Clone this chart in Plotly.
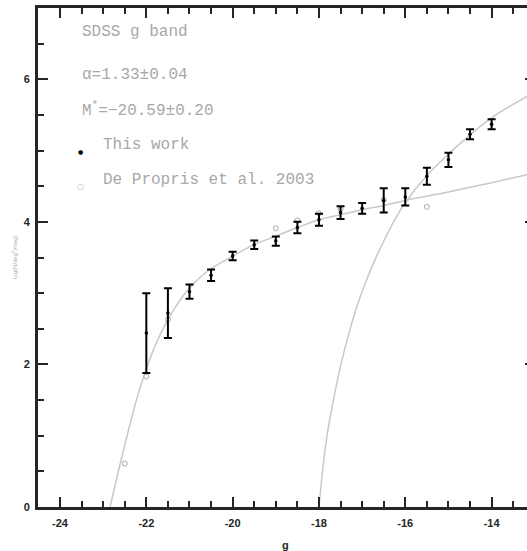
import plotly.graph_objects as go

# ---- data ----
g_this = [-22.0, -21.5, -21.0, -20.5, -20.0, -19.5, -19.0, -18.5, -18.0,
          -17.5, -17.0, -16.5, -16.0, -15.5, -15.0, -14.5, -14.0]
logn_this = [2.44, 2.72, 3.02, 3.25, 3.52, 3.68, 3.73, 3.92, 4.03,
             4.13, 4.19, 4.30, 4.35, 4.64, 4.87, 5.23, 5.37]
err_this = [0.56, 0.35, 0.10, 0.08, 0.06, 0.06, 0.065, 0.08, 0.085,
            0.09, 0.075, 0.17, 0.12, 0.12, 0.10, 0.07, 0.07]

g_dp = [-22.5, -22.0, -21.5, -19.0, -18.5, -18.0, -17.5, -16.5, -15.5]
logn_dp = [0.61, 1.83, 2.63, 3.91, 4.02, 4.12, 4.18, 4.31, 4.21]

# bright-end fit curve
fit1_g = [-22.84, -22.6, -22.23, -22.11, -21.84, -21.5, -21.03, -20.6, -20.0,
          -19.5, -19.0, -18.5, -18.0, -17.5, -17.0, -16.5, -16.0, -15.0, -14.0, -13.18]
fit1_y = [0.0, 0.62, 1.5, 1.74, 2.2, 2.63, 3.05, 3.3, 3.52,
          3.68, 3.8, 3.92, 4.03, 4.1, 4.17, 4.23, 4.3, 4.42, 4.55, 4.66]

# faint-end fit curve
fit2_g = [-18.0, -17.9, -17.8, -17.65, -17.5, -17.3, -17.1, -16.9, -16.7,
          -16.5, -16.25, -16.0, -15.5, -15.0, -14.5, -14.0, -13.18]
fit2_y = [0.0, 0.6, 1.05, 1.55, 1.98, 2.45, 2.85, 3.18, 3.47,
          3.73, 4.02, 4.27, 4.65, 4.95, 5.22, 5.46, 5.76]

x_tickvals = [-24, -22, -20, -18, -16, -14]
x_ticktext = ["-24", "-22", "-20", "-18", "-16", "-14"]
x_minor = [-24.5, -23.5, -23.0, -22.5, -21.5, -21.0, -20.5, -19.5, -19.0,
           -18.5, -17.5, -17.0, -16.5, -15.5, -15.0, -14.5, -13.5]
y_tickvals = [0, 2, 4, 6]
y_ticktext = ["0", "2", "4", "6"]
y_minor = [0.5, 1.0, 1.5, 2.5, 3.0, 3.5, 4.5, 5.0, 5.5, 6.5]

AX = "#262626"
CURVE = "#c8c8c8"
TXT = "#a8a8a8"
XR = [-24.51, -13.18]
YR = [0, 7]

fig = go.Figure()
fig.add_trace(go.Scatter(x=fit1_g, y=fit1_y, mode="lines",
                         line=dict(color=CURVE, width=1.5, shape="spline"),
                         hoverinfo="skip"))
fig.add_trace(go.Scatter(x=fit2_g, y=fit2_y, mode="lines",
                         line=dict(color=CURVE, width=1.5, shape="spline"),
                         hoverinfo="skip"))
fig.add_trace(go.Scatter(x=g_dp, y=logn_dp, mode="markers",
                         marker=dict(symbol="circle-open", size=5,
                                     color="#aaaaaa", line=dict(width=1, color="#aaaaaa"))))
fig.add_trace(go.Scatter(x=g_this, y=logn_this, mode="markers",
                         marker=dict(symbol="circle", size=3.5, color="black"),
                         error_y=dict(type="data", array=err_this, color="black",
                                      thickness=2, width=4)))
# empty helper traces so the overlay tick axes are instantiated
for xa, ya in [("x2", "y"), ("x3", "y"), ("x4", "y"), ("x", "y2"), ("x", "y3")]:
    fig.add_trace(go.Scatter(x=[], y=[], xaxis=xa, yaxis=ya, hoverinfo="skip"))

W, H = 527, 551
L, T, B = 38, 8, 44
pw, ph = W - L, H - T - B


def px(xp):
    return (xp - L) / pw


def py(yp):
    return (H - B - yp) / ph


tickfont = dict(family="Liberation Sans", size=11, color=AX, weight="bold")
common = dict(showgrid=False, zeroline=False, tickcolor=AX, tickwidth=2, ticks="inside")
fig.update_layout(
    width=W, height=H,
    margin=dict(l=L, r=0, t=T, b=B, pad=0),
    paper_bgcolor="white", plot_bgcolor="white",
    showlegend=False,
    xaxis=dict(range=XR, tickmode="array", tickvals=x_tickvals, ticktext=x_ticktext,
               ticklen=10, showline=True, linecolor=AX, linewidth=2.5,
               ticklabelstandoff=4, tickfont=tickfont, **common),
    xaxis2=dict(range=XR, overlaying="x", side="bottom", anchor="y", tickmode="array",
                tickvals=x_minor, ticklen=6, showticklabels=False, showline=False, **common),
    xaxis3=dict(range=XR, overlaying="x", side="top", anchor="y", tickmode="array",
                tickvals=x_tickvals, ticklen=10, showticklabels=False,
                showline=True, linecolor=AX, linewidth=2.5, **common),
    xaxis4=dict(range=XR, overlaying="x", side="top", anchor="y", tickmode="array",
                tickvals=x_minor, ticklen=6, showticklabels=False, showline=False, **common),
    yaxis=dict(range=YR, tickmode="array", tickvals=y_tickvals,
               ticktext=[t + "\u00a0" for t in y_ticktext],
               ticklen=10, showline=True, linecolor=AX, linewidth=2.5,
               tickfont=tickfont, **common),
    yaxis2=dict(range=YR, overlaying="y", side="left", anchor="x", tickmode="array",
                tickvals=y_minor, ticklen=6, showticklabels=False, showline=False, **common),
    yaxis3=dict(range=YR, overlaying="y", side="right", anchor="x", tickmode="array",
                tickvals=y_tickvals, ticklen=2, showticklabels=False, showline=False, **common),
)

tfont = dict(family="Liberation Mono", size=16, color=TXT)
ann = [
    ("SDSS g band", 80, 32),
    ("α=1.33±0.04", 80, 75),
    ("M<sup>*</sup>=−20.59±0.20", 80, 110),
    ("This work", 101, 145),
    ("De Propris et al. 2003", 101, 180),
]
for txt, x0, y0 in ann:
    fig.add_annotation(text=txt, xref="paper", yref="paper", x=px(x0), y=py(y0),
                       xanchor="left", yanchor="middle", showarrow=False, font=tfont)

fig.add_annotation(text="●", xref="paper", yref="paper", x=px(80), y=py(151.5),
                   xanchor="center", yanchor="middle", showarrow=False,
                   font=dict(family="DejaVu Sans", size=6, color="black"))
fig.add_annotation(text="○", xref="paper", yref="paper", x=px(80), y=py(186.5),
                   xanchor="center", yanchor="middle", showarrow=False,
                   font=dict(family="DejaVu Sans", size=8, color="#aaaaaa"))

fig.add_annotation(text="g", xref="paper", yref="paper", x=px(285), y=py(545),
                   xanchor="center", yanchor="middle", showarrow=False,
                   font=dict(family="Liberation Sans", size=11, color=AX, weight="bold"))
fig.add_annotation(text="log(N/deg<sup>2</sup>/mag)", xref="paper", yref="paper",
                   x=px(14), y=py(257), textangle=-90,
                   xanchor="center", yanchor="middle", showarrow=False,
                   font=dict(family="Liberation Sans", size=6, color="#b0b0b0"))

fig.write_html("out.html")
